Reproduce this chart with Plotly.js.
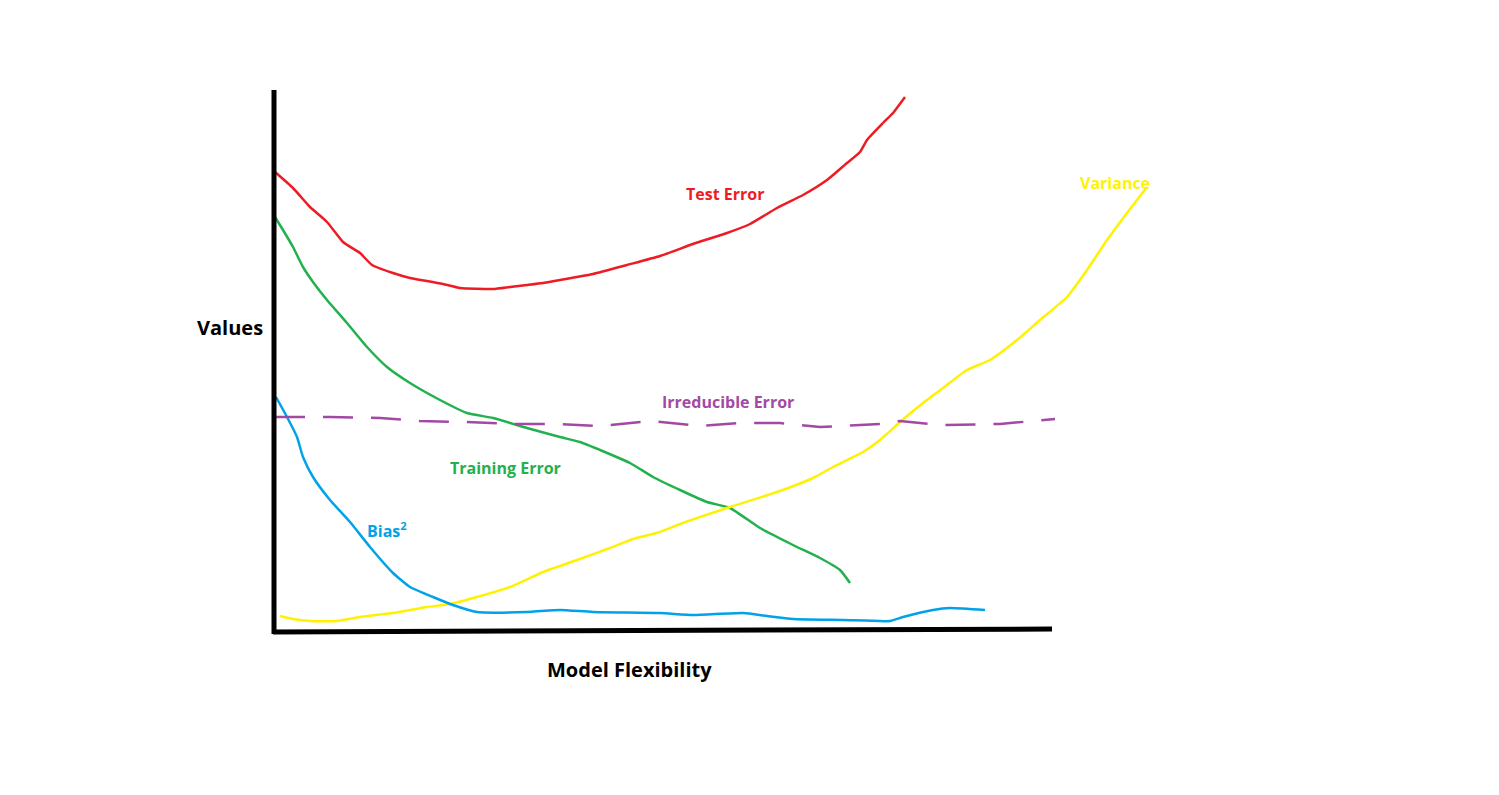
<!DOCTYPE html>
<html>
<head>
<meta charset="utf-8">
<script src="https://cdn.plot.ly/plotly-3.0.1.min.js"></script>
<style>html,body{margin:0;padding:0;background:#fff;}#chart{width:1499px;height:795px;}</style>
</head>
<body>
<div id="chart"></div>
<script>
// Model flexibility (x) and values (y)
const testX = [1, 19, 36, 53, 69, 86, 98, 119, 136, 153, 169, 186, 219, 236, 253, 269, 286, 319, 353, 386, 419, 453, 476, 503, 529, 553, 573, 586, 593, 609, 619, 631];
const testY = [460, 444, 425, 410, 390, 379, 367, 359, 354, 351, 348, 344, 343, 345, 347, 349, 352, 358, 367, 376, 388, 399, 408, 424, 437, 452, 469, 480, 492, 509, 519, 535];

const trainX = [1, 9, 19, 29, 39, 53, 73, 93, 113, 136, 166, 193, 219, 253, 286, 306, 326, 356, 379, 406, 433, 456, 486, 519, 546, 566, 576];
const trainY = [415, 402, 385, 365, 350, 332, 309, 285, 265, 249, 232, 219, 214, 204, 195, 190, 182, 169, 155, 142, 130, 124, 104, 87, 74, 62, 49];

const varX = [6, 19, 36, 63, 86, 119, 153, 176, 203, 236, 269, 303, 336, 359, 386, 406, 456, 506, 539, 559, 589, 606, 626, 649, 669, 693, 716, 743, 766, 793, 813, 833, 853, 873];
const varY = [16, 13, 11, 11, 15, 19, 25, 28, 35, 45, 60, 72, 84, 93, 100, 108, 125, 141, 154, 165, 180, 192, 210, 229, 244, 262, 272, 292, 312, 335, 362, 392, 419, 445];

const biasX = [2, 13, 23, 29, 39, 56, 76, 96, 119, 136, 159, 179, 203, 253, 286, 319, 386, 419, 469, 493, 519, 569, 616, 629, 659, 676, 711];
const biasY = [235, 215, 195, 175, 155, 132, 110, 85, 59, 45, 35, 27, 20, 20, 22, 20, 19, 17, 19, 16, 13, 12, 11, 15, 22, 24, 22];

const irrX = [1, 56, 106, 146, 191, 241, 286, 326, 376, 426, 466, 506, 546, 606, 626, 666, 726, 781];
const irrY = [215, 215, 214, 211, 210, 208, 208, 206, 211, 206, 209, 209, 205, 208, 211, 207, 208, 213];

// Axis extents
const axisXEnd = 778;
const axisYEnd = 542;

// Label texts
const labels = ["Test Error", "Variance", "Irreducible Error", "Training Error", "Bias<sup>2</sup>"];
const xTitle = "Model Flexibility";
const yTitle = "Values";

const RED = "#ED1C24", GREEN = "#22B14C", YELLOW = "#FFF200", BLUE = "#00A2E8", PURPLE = "#A349A4";

const traces = [
  {x: testX, y: testY, mode: "lines", line: {color: RED, width: 2.5, shape: "spline", smoothing: 0.5}},
  {x: trainX, y: trainY, mode: "lines", line: {color: GREEN, width: 2.5, shape: "spline", smoothing: 0.5}},
  {x: varX, y: varY, mode: "lines", line: {color: YELLOW, width: 2.5, shape: "spline", smoothing: 0.5}},
  {x: biasX, y: biasY, mode: "lines", line: {color: BLUE, width: 2.5, shape: "spline", smoothing: 0.5}},
  {x: irrX, y: irrY, mode: "lines", line: {color: PURPLE, width: 2.5, dash: "30px,18px"}}
];

const fontFam = "Open Sans, Noto Sans, sans-serif";
function ann(text, x, y, color, size) {
  return {text: "<b>" + text + "</b>", x: x, y: y, xref: "x", yref: "y", showarrow: false,
          font: {family: fontFam, size: size, color: color}, xanchor: "center", yanchor: "middle"};
}

const layout = {
  width: 1499, height: 795,
  margin: {l: 269, r: 30, t: 5, b: 158},
  paper_bgcolor: "#fff", plot_bgcolor: "#fff",
  showlegend: false,
  hovermode: false,
  xaxis: {range: [-5, 1195], showgrid: false, zeroline: false, showticklabels: false, showline: false, ticks: ""},
  yaxis: {range: [-5, 627], showgrid: false, zeroline: false, showticklabels: false, showline: false, ticks: ""},
  shapes: [
    {type: "line", xref: "x", yref: "y", x0: 0, y0: -2, x1: 0, y1: axisYEnd, line: {color: "#000", width: 5}},
    {type: "line", xref: "x", yref: "y", x0: -1, y0: 0, x1: axisXEnd, y1: 3, line: {color: "#000", width: 5}}
  ],
  annotations: [
    ann(labels[0], 451, 438, RED, 16),
    ann(labels[1], 841, 449, YELLOW, 16),
    ann(labels[2], 454, 230, PURPLE, 16),
    ann(labels[3], 231, 164, GREEN, 16),
    ann(labels[4], 113, 102, BLUE, 16),
    {text: "<b>" + yTitle + "</b>", x: -0.0325, y: 0.489, xref: "paper", yref: "paper", showarrow: false,
     font: {family: fontFam, size: 20, color: "#000"}, xanchor: "center", yanchor: "middle"},
    {text: "<b>" + xTitle + "</b>", x: 0.3, y: -0.052, xref: "paper", yref: "paper", showarrow: false,
     font: {family: fontFam, size: 20, color: "#000"}, xanchor: "center", yanchor: "middle"}
  ]
};

Plotly.newPlot("chart", traces, layout, {displayModeBar: false, staticPlot: true});
</script>
</body>
</html>
